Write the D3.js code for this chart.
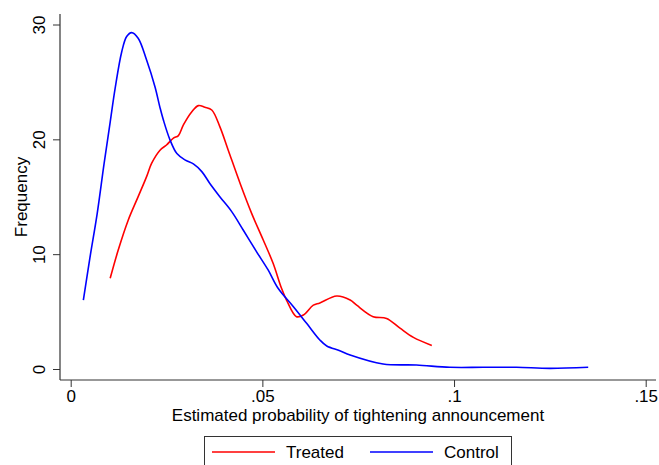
<!DOCTYPE html>
<html>
<head>
<meta charset="utf-8">
<script src="https://cdn.jsdelivr.net/npm/d3@7"></script>
<style>
  body { margin: 0; background: #fff; }
  svg { font-family: "Liberation Sans", Arial, Helvetica, sans-serif; }
</style>
</head>
<body>
<div class="chart-container"></div>
<script>
//! DATA
const xTicks = [0, 0.05, 0.1, 0.15];
const xTickLabels = ['0', '.05', '.1', '.15'];
const yTicks = [0, 10, 20, 30];
const yTickLabels = ['0', '10', '20', '30'];

const treatedX = [0.0103, 0.0124, 0.0150, 0.0176, 0.0198, 0.0211, 0.0233, 0.0250, 0.0268, 0.0281, 0.0294,
  0.0316, 0.0333, 0.0350, 0.0368, 0.0389, 0.0411, 0.0442, 0.0472, 0.0502, 0.0528, 0.0550, 0.0563, 0.0589,
  0.0607, 0.0633, 0.0650, 0.0694, 0.0729, 0.0746, 0.0789, 0.0824, 0.0859, 0.0894, 0.0942];
const treatedY = [7.94, 10.4, 13.0, 15.05, 16.8, 17.95, 19.1, 19.55, 20.15, 20.37, 21.3,
  22.45, 22.98, 22.84, 22.6, 21.15, 19.1, 16.2, 13.6, 11.3, 9.25, 7.07, 6.05, 4.6,
  4.75, 5.6, 5.8, 6.4, 6.05, 5.6, 4.6, 4.45, 3.6, 2.8, 2.1];

const controlX = [0.0033, 0.0050, 0.0069, 0.0087, 0.0103, 0.0116, 0.0133, 0.0146, 0.0159, 0.0176, 0.0198,
  0.0220, 0.0233, 0.0242, 0.0259, 0.0277, 0.0298, 0.0320, 0.0342, 0.0363, 0.0389, 0.0420, 0.0450, 0.0485,
  0.0515, 0.0541, 0.0581, 0.0616, 0.0650, 0.0668, 0.0702, 0.0729, 0.0815, 0.0902, 0.0989, 0.1076, 0.1163,
  0.1250, 0.1350];
const controlY = [6.05, 9.7, 13.55, 17.9, 21.55, 24.5, 27.65, 29.0, 29.34, 28.85, 26.95,
  24.6, 22.8, 21.7, 20.0, 18.8, 18.25, 17.9, 17.23, 16.2, 15.05, 13.75, 12.15, 10.25,
  8.67, 7.07, 5.47, 4.0, 2.57, 2.05, 1.64, 1.26, 0.48, 0.39, 0.19, 0.19, 0.19,
  0.10, 0.19];

const seriesNames = ['Treated', 'Control'];
const seriesColors = ['#ff0000', '#0000ff'];

//! CONSTS
const width = 659;
const height = 465;
const axisLeft = 60;
const axisRight = 656;
const axisTop = 14;
const axisBottom = 380;
const fontSize = '17px';

const svg = d3.select('.chart-container')
  .append('svg')
  .attr('width', width)
  .attr('height', height);

//! SCALES
const xScale = d3.scaleLinear().domain([0, 0.15]).range([70.7, 645.7]);
const yScale = d3.scaleLinear().domain([0, 30]).range([369.5, 25]);

//! AXES
const xAxis = d3.axisBottom(xScale)
  .tickValues(xTicks)
  .tickFormat((d, i) => xTickLabels[i])
  .tickSize(7)
  .tickPadding(3);

const yAxis = d3.axisLeft(yScale)
  .tickValues(yTicks)
  .tickFormat((d, i) => yTickLabels[i])
  .tickSize(7);

const gx = svg.append('g')
  .attr('transform', `translate(0,${axisBottom})`)
  .call(xAxis);
gx.select('.domain').remove();
gx.selectAll('line').attr('stroke', '#333');
gx.selectAll('text')
  .attr('fill', '#000')
  .style('font-size', fontSize)
  .style('font-family', '"Liberation Sans", Arial, sans-serif');

const gy = svg.append('g')
  .attr('transform', `translate(${axisLeft},0)`)
  .call(yAxis);
gy.select('.domain').remove();
gy.selectAll('.tick').attr('transform', null);
gy.selectAll('.tick line')
  .attr('stroke', '#333')
  .attr('y1', (d) => yScale(d))
  .attr('y2', (d) => yScale(d));
gy.selectAll('text')
  .attr('fill', '#000')
  .attr('x', null)
  .attr('dy', null)
  .attr('y', 0)
  .attr('text-anchor', 'middle')
  .attr('transform', (d) => `translate(-15,${yScale(d)}) rotate(-90)`)
  .style('font-size', fontSize)
  .style('font-family', '"Liberation Sans", Arial, sans-serif');

// axis lines
svg.append('line')
  .attr('x1', axisLeft).attr('x2', axisRight)
  .attr('y1', axisBottom).attr('y2', axisBottom)
  .attr('stroke', '#333').attr('stroke-width', 1.2);
svg.append('line')
  .attr('x1', axisLeft).attr('x2', axisLeft)
  .attr('y1', axisTop).attr('y2', axisBottom)
  .attr('stroke', '#333').attr('stroke-width', 1.2);

//! TITLES
svg.append('text')
  .attr('x', (axisLeft + axisRight) / 2)
  .attr('y', 421)
  .attr('text-anchor', 'middle')
  .style('font-size', fontSize)
  .text('Estimated probability of tightening announcement');

svg.append('text')
  .attr('transform', `translate(27,${(axisTop + axisBottom) / 2}) rotate(-90)`)
  .attr('text-anchor', 'middle')
  .style('font-size', fontSize)
  .text('Frequency');

//! LINES
const line = d3.line()
  .x((d) => xScale(d[0]))
  .y((d) => yScale(d[1]))
  .curve(d3.curveCatmullRom.alpha(0.5));

const series = [
  treatedX.map((x, i) => [x, treatedY[i]]),
  controlX.map((x, i) => [x, controlY[i]])
];

svg.selectAll('.series')
  .data(series)
  .enter()
  .append('path')
  .attr('class', 'series')
  .attr('d', line)
  .attr('fill', 'none')
  .attr('stroke', (d, i) => seriesColors[i])
  .attr('stroke-width', 1.6);

//! LEGEND
const legend = svg.append('g');
legend.append('rect')
  .attr('x', 204.5).attr('y', 436.5)
  .attr('width', 307).attr('height', 40)
  .attr('fill', '#fff')
  .attr('stroke', '#333');

const legendItems = [
  { lx: 212, tx: 286 },
  { lx: 370, tx: 444 }
];
legendItems.forEach((p, i) => {
  legend.append('line')
    .attr('x1', p.lx).attr('x2', p.lx + 63)
    .attr('y1', 452).attr('y2', 452)
    .attr('stroke', seriesColors[i])
    .attr('stroke-width', 1.6);
  legend.append('text')
    .attr('x', p.tx).attr('y', 458)
    .style('font-size', fontSize)
    .text(seriesNames[i]);
});
</script>
</body>
</html>
